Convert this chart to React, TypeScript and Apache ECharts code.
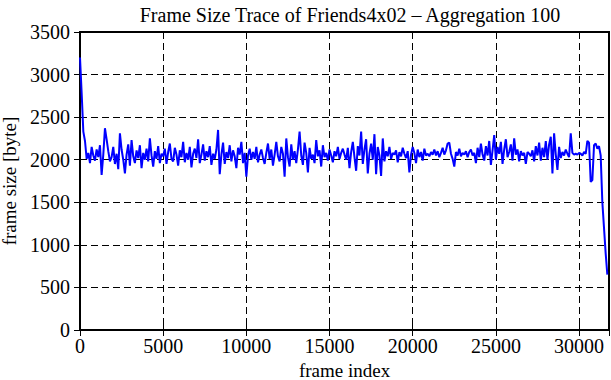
import React, { useEffect, useRef } from "react";
import * as echarts from "echarts";

const TITLE = "Frame Size Trace of Friends4x02 \u2013 Aggregation 100";
const X_NAME = "frame index";
const Y_NAME = "frame size [byte]";
const AGGREGATION = 100;
const X_MAX = 31800;
const Y_MAX = 3500;

// aggregated frame sizes (one value per 100 frames)
const frameSizes: number[] = [
  3200, 2780, 2330, 2220, 2010, 2080, 1960, 2150, 2050, 1990,
  2120, 2030, 2170, 1820, 2060, 2370, 2240, 2100, 1980, 2030,
  2150, 1950, 2070, 1890, 2310, 2120, 2000, 1840, 2060, 2180,
  1930, 2230, 2040, 1960, 2110, 2020, 2170, 1900, 2080, 2000,
  2130, 1980, 2250, 2050, 1920, 2100, 2010, 2160, 1960, 2070,
  2040, 2130, 1950, 2090, 2190, 2010, 1980, 2140, 2060, 1930,
  2110, 2030, 2210, 1970, 2080, 2000, 2150, 1910, 2070, 2130,
  2020, 2240, 1960, 2060, 2180, 1990, 2100, 2030, 2160, 1940,
  2070, 2010, 2120, 2350, 1830, 2060, 2200, 1950, 2090, 2020,
  2170, 1980, 2110, 2040, 1900, 2140, 2060, 2210, 1960, 2080,
  1800, 2050, 2130, 2000, 2090, 2010, 2150, 1970, 2060, 2120,
  2020, 1950, 2080, 2190, 2010, 2120, 1930, 2060, 2210, 2040,
  1980, 2150, 2070, 1800, 2250, 2030, 1920, 2180, 2000, 2100,
  1960, 2120, 2330, 2050, 1940, 2200, 2080, 1850, 2140, 2010,
  2060, 1960, 2230, 2040, 2110, 1920, 2170, 2030, 2080, 1990,
  2120, 2050, 1970, 2100, 2040, 2150, 2010, 2080, 2130, 2060,
  2000, 2140, 1900, 2090, 2210, 2030, 1870, 2160, 2050, 2330,
  1950, 2120, 2240, 1840, 2070, 2190, 2000, 2300, 1830, 2150,
  2050, 1810, 2250, 1980, 2100, 2040, 2150, 2010, 2080, 2060,
  2110, 1970, 2090, 2040, 2140, 2070, 2020, 2100, 1850, 2060,
  2150, 2080, 1960, 2120, 2030, 2090, 1990, 2130, 2050, 2070,
  2040, 2090, 2060, 2120, 2050, 2100, 2030, 2080, 2140, 2060,
  2110, 2190, 2200, 2070, 2010, 1920, 2090, 2050, 2130, 2040,
  2080, 2060, 2100, 2030, 2090, 2120, 2050, 2080, 1960, 2140,
  2030, 2190, 2060, 1990, 2160, 2050, 2220, 1940, 2110, 2290,
  2000, 2150, 2070, 2210, 1950, 2120, 2240, 2030, 2090, 2180,
  1990, 2250, 2060, 2120, 1980, 2100, 2050, 2080, 1950, 2090,
  2070, 2040, 2110, 1980, 2160, 2050, 2200, 1990, 2140, 2030,
  2220, 2000, 2180, 2270, 1840, 2310, 2060, 1880, 2150, 2020,
  2090, 2050, 2120, 2070, 2030, 2310, 2080, 2060, 2070, 2060,
  2080, 2070, 2050, 2090, 2070, 2220, 2200, 1740, 1760, 2170,
  2190, 2130, 2160, 2050, 1500, 1200, 900, 650,
];

const FONT = "'Liberation Serif', 'Times New Roman', serif";
const FS = 20;
const NAME_FS = 19;

export default function App() {
  const ref = useRef<HTMLDivElement>(null);
  useEffect(() => {
    if (!ref.current) return;
    const chart = echarts.init(ref.current, null, { renderer: "svg" });
    const data = frameSizes.map((v, i) => [i * AGGREGATION, v]);
    const tickCommon = {
      show: true,
      inside: true,
      length: 6,
      lineStyle: { color: "#000", width: 1 },
    };
    chart.setOption({
      animation: false,
      backgroundColor: "#fff",
      textStyle: { fontFamily: FONT },
      title: {
        text: TITLE,
        left: 345,
        top: 0,
        textAlign: "center",
        textStyle: {
          fontFamily: FONT,
          fontWeight: "normal",
          fontSize: FS,
          color: "#000",
        },
      },
      grid: {
        left: 80,
        right: 2,
        top: 32,
        bottom: 50,
        containLabel: false,
        outerBoundsMode: "none",
        show: true,
        borderColor: "#000",
        borderWidth: 2,
        backgroundColor: "transparent",
      },
      xAxis: [
        {
          type: "value",
          min: 0,
          max: X_MAX,
          interval: 5000,
          name: X_NAME,
          nameLocation: "middle",
          nameGap: 24,
          nameTextStyle: { fontFamily: FONT, fontSize: NAME_FS, color: "#000", lineHeight: 20 },
          axisLine: { show: true, onZero: false, lineStyle: { color: "#000", width: 2 } },
          axisTick: tickCommon,
          axisLabel: {
            show: true,
            fontFamily: FONT,
            fontSize: FS,
            color: "#000",
            margin: 6,
            showMaxLabel: false,
            formatter: (v: number) => String(v),
          },
          splitLine: {
            show: true,
            lineStyle: { color: "#000", width: 1, type: [7, 4] },
          },
        },
        {
          type: "value",
          position: "top",
          min: 0,
          max: X_MAX,
          interval: 5000,
          axisLine: { show: false },
          axisTick: tickCommon,
          axisLabel: { show: false },
          splitLine: { show: false },
        },
      ],
      yAxis: [
        {
          type: "value",
          min: 0,
          max: Y_MAX,
          interval: 500,
          name: Y_NAME,
          nameLocation: "middle",
          nameGap: 53,
          nameRotate: 90,
          nameTextStyle: { fontFamily: FONT, fontSize: NAME_FS, color: "#000", lineHeight: 20 },
          axisLine: { show: true, onZero: false, lineStyle: { color: "#000", width: 2 } },
          axisTick: tickCommon,
          axisLabel: {
            show: true,
            fontFamily: FONT,
            fontSize: FS,
            color: "#000",
            margin: 10,
            formatter: (v: number) => String(v),
          },
          splitLine: {
            show: true,
            lineStyle: { color: "#000", width: 1, type: [7, 4] },
          },
        },
        {
          type: "value",
          position: "right",
          min: 0,
          max: Y_MAX,
          interval: 500,
          axisLine: { show: false },
          axisTick: tickCommon,
          axisLabel: { show: false },
          splitLine: { show: false },
        },
      ],
      series: [
        {
          type: "line",
          data,
          xAxisIndex: 0,
          yAxisIndex: 0,
          showSymbol: false,
          symbol: "none",
          lineStyle: { color: "#0000ff", width: 2 },
          z: 3,
        },
      ],
    });
    return () => chart.dispose();
  }, []);
  return (
    <div
      ref={ref}
      style={{ position: "fixed", left: 0, top: 0, width: 611, height: 380 }}
    />
  );
}
